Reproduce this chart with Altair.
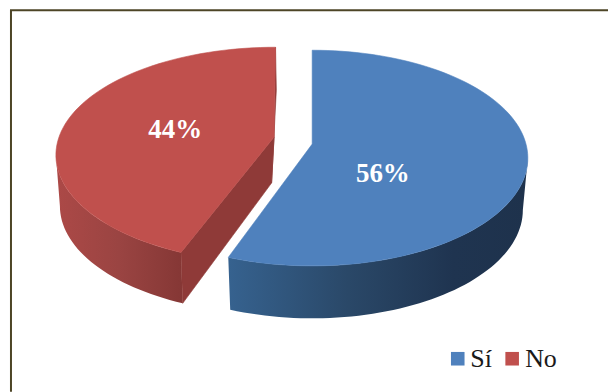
import math
import altair as alt
import pandas as pd

# Chart values
categories = ["Sí", "No"]
shares = [56, 44]
face_colors = ["#4f81bd", "#c0504d"]

W, H = 609, 392
x_scale = alt.Scale(domain=[0, W], range=[0, W])
X = alt.X("x:Q", scale=x_scale, axis=None)
Y = alt.Y("y:Q", scale=alt.Scale(domain=[0, H], range=[0, H]), axis=None)

# Ellipses of the tilted pie: centre and radii of each rim
blue_top = dict(cx=312.7, cy=158, rx=216, ry=108)
blue_bot = dict(cx=312.7, cy=210, rx=211, ry=108.5)
red_top = dict(cx=276, cy=155, rx=220, ry=108)
red_bot = dict(cx=276, cy=206, rx=216, ry=108)
blue_apex = (312.7, 144)
red_apex = (274.5, 137)
red_apex_low = (272, 183)

# Clockwise angle where the first slice ends, with the small shift that the
# perspective of each detached slice adds to its visible corner
split = shares[0] * 3.6
blue_end = split + 1.3
red_start = split + 3.9


def rim(e, start, end, step=2.0):
    """Points along an ellipse, angles clockwise from twelve o'clock."""
    n = max(1, int(abs(end - start) / step) + 1)
    pts = []
    for i in range(n + 1):
        t = math.radians(start + (end - start) * i / n)
        pts.append((e["cx"] + e["rx"] * math.sin(t), e["cy"] - e["ry"] * math.cos(t)))
    return pts


def shape(points, **mark_kw):
    """A closed filled outline drawn as an ordered line through the scales."""
    closed = list(points) + [points[0]]
    df = pd.DataFrame(
        {"x": [p[0] for p in closed], "y": [p[1] for p in closed], "k": range(len(closed))}
    )
    return (
        alt.Chart(df)
        .mark_line(strokeWidth=0.6, **mark_kw)
        .encode(x=X, y=Y, order="k:Q")
    )


def h_gradient(stops):
    return alt.Gradient(
        gradient="linear", x1=0, x2=1, y1=0, y2=0,
        stops=[alt.GradientStop(offset=o, color=c) for o, c in stops],
    )


blue_grad = h_gradient([(0, "#36628f"), (0.4, "#2a4868"), (0.75, "#1f3450"), (1, "#1e324c")])
red_grad = h_gradient([(0, "#ac4947"), (0.5, "#9a4442"), (1, "#853735")])

# Outer walls
blue_wall = shape(
    rim(blue_top, 90, blue_end) + rim(blue_bot, blue_end, 90),
    fill=blue_grad, stroke="#1e324c", strokeOpacity=0,
)
red_wall = shape(
    rim(red_top, red_start, 270) + rim(red_bot, 270, red_start),
    fill=red_grad, stroke="#8b3937", strokeOpacity=0,
)

# Cut faces of the detached slice
red_corner = rim(red_top, red_start, red_start)[0]
red_low = rim(red_bot, red_start, red_start)[0]
red_cut = shape(
    [red_corner, red_apex, red_apex_low, red_low], fill="#8f3a38", stroke="#8f3a38"
)
red_tip = rim(red_top, 360, 360)[0]
red_back = shape(
    [red_tip, (276.8, 90), red_apex_low, red_apex], fill="#8f3a38", stroke="#8f3a38"
)

# Top faces
blue_face = shape(
    [blue_apex] + rim(blue_top, 0, blue_end), fill=face_colors[0], stroke=face_colors[0]
)
red_face = shape(
    [red_apex] + rim(red_top, red_start, 360), fill=face_colors[1], stroke=face_colors[1]
)

# Percentage labels
labels = pd.DataFrame(
    {"x": [383.5, 175.5], "y": [174, 130], "t": [f"{v}%" for v in shares]}
)
label_marks = (
    alt.Chart(labels)
    .mark_text(
        font="Liberation Serif", fontSize=27, fontWeight="bold",
        color="white", align="center", baseline="middle",
    )
    .encode(x=X, y=Y, text="t:N")
)

# Legend row
legend = pd.DataFrame(
    {"x": [458.5, 513], "y": [359, 359], "tx": [471, 526], "name": categories, "c": face_colors}
)
legend_keys = (
    alt.Chart(legend)
    .mark_square(size=185, opacity=1)
    .encode(x=X, y=Y, color=alt.Color("c:N", scale=None))
)
legend_text = (
    alt.Chart(legend)
    .mark_text(font="Liberation Serif", fontSize=26, color="#1a1a1a", align="left", baseline="middle")
    .encode(x=alt.X("tx:Q", scale=x_scale, axis=None), y=Y, text="name:N")
)

# Frame: top and left edges only, running off the right and bottom
frame_color = "#4d4526"
frame_top = (
    alt.Chart(pd.DataFrame({"x": [10], "x2": [609], "y": [10]}))
    .mark_rule(color=frame_color, strokeWidth=2)
    .encode(x=X, x2="x2:Q", y=Y)
)
frame_left = (
    alt.Chart(pd.DataFrame({"x": [11], "y": [10], "y2": [392]}))
    .mark_rule(color=frame_color, strokeWidth=2)
    .encode(x=X, y=Y, y2="y2:Q")
)

chart = (
    alt.layer(
        frame_top, frame_left,
        red_wall, red_back, red_cut, red_face,
        blue_wall, blue_face,
        label_marks, legend_keys, legend_text,
    )
    .properties(width=W, height=H, padding=0, background="white")
    .configure_view(stroke=None)
)

chart.save("out.html", embed_options={"renderer": "svg", "actions": False})
